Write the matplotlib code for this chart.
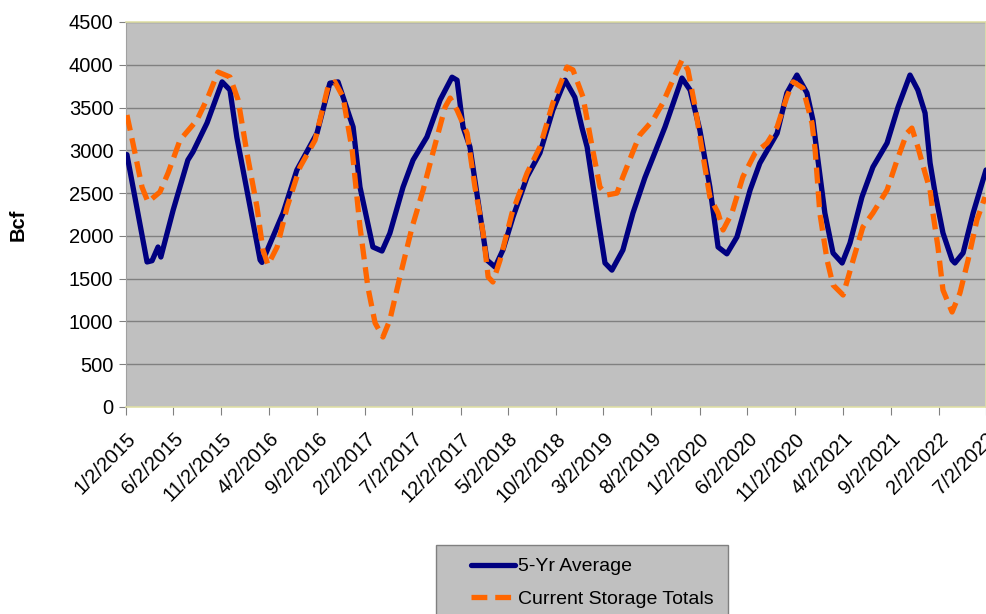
import matplotlib
matplotlib.use("Agg")
import matplotlib.pyplot as plt
from matplotlib.patches import Rectangle
import pandas as pd

# 5-Yr Average (Bcf)
avg_dates = [
    "2015-01-05", "2015-03-10", "2015-03-26", "2015-04-14", "2015-04-23", "2015-06-01",
    "2015-07-18", "2015-08-03", "2015-09-17", "2015-11-04", "2015-11-29", "2015-12-21",
    "2016-02-01", "2016-03-04", "2016-03-10", "2016-05-16", "2016-06-29", "2016-09-01",
    "2016-10-12", "2016-11-07", "2016-12-25", "2017-01-16", "2017-02-26", "2017-03-27",
    "2017-04-21", "2017-06-02", "2017-07-04", "2017-08-17", "2017-09-28", "2017-11-05",
    "2017-11-21", "2017-12-10", "2018-01-01", "2018-01-23", "2018-02-24", "2018-03-22",
    "2018-04-16", "2018-05-18", "2018-07-02", "2018-08-12", "2018-09-22", "2018-10-31",
    "2018-12-01", "2018-12-24", "2019-01-09", "2019-02-10", "2019-03-07", "2019-03-29",
    "2019-05-03", "2019-06-04", "2019-07-12", "2019-08-07", "2019-09-14", "2019-11-07",
    "2019-12-03", "2020-01-03", "2020-02-04", "2020-03-01", "2020-03-29", "2020-04-30",
    "2020-06-11", "2020-07-12", "2020-09-05", "2020-10-06", "2020-11-07", "2020-12-09",
    "2020-12-28", "2021-01-13", "2021-02-04", "2021-03-02", "2021-03-31", "2021-04-25",
    "2021-06-02", "2021-07-07", "2021-08-21", "2021-09-25", "2021-11-02", "2021-11-27",
    "2021-12-20", "2022-01-05", "2022-01-21", "2022-02-15", "2022-03-16", "2022-03-25",
    "2022-04-20", "2022-05-22", "2022-07-02",
]
avg_values = [
    2950, 1695, 1710, 1870, 1753, 2300,
    2887, 2980, 3320, 3800, 3705, 3150,
    2340, 1718, 1690, 2267, 2770, 3200,
    3785, 3800, 3273, 2570, 1870, 1823,
    2030, 2570, 2887, 3156, 3588, 3855,
    3820, 3273, 3040, 2500, 1718, 1636,
    1835, 2220, 2690, 2970, 3470, 3820,
    3620, 3260, 3040, 2267, 1683, 1600,
    1835, 2267, 2680, 2920, 3273, 3845,
    3705, 3237, 2570, 1870, 1790, 1987,
    2536, 2850, 3200, 3670, 3880, 3670,
    3354, 2887, 2267, 1800, 1683, 1917,
    2454, 2805, 3085, 3506, 3880, 3705,
    3436, 2852, 2500, 2034, 1718, 1683,
    1800, 2267, 2770,
]

# Current Storage Totals (Bcf)
cur_dates = [
    "2015-01-05", "2015-01-24", "2015-02-22", "2015-03-13", "2015-04-20", "2015-05-16",
    "2015-06-23", "2015-08-16", "2015-09-20", "2015-10-22", "2015-11-29", "2015-12-25",
    "2016-01-22", "2016-02-23", "2016-03-13", "2016-03-29", "2016-04-27", "2016-05-29",
    "2016-07-09", "2016-08-26", "2016-10-06", "2016-10-28", "2016-11-23", "2016-12-22",
    "2017-01-16", "2017-02-10", "2017-03-05", "2017-03-30", "2017-04-21", "2017-05-23",
    "2017-07-01", "2017-08-05", "2017-09-05", "2017-10-14", "2017-10-30", "2017-11-21",
    "2017-12-23", "2018-01-17", "2018-02-12", "2018-02-28", "2018-03-15", "2018-04-07",
    "2018-05-15", "2018-07-02", "2018-08-12", "2018-09-22", "2018-11-06", "2018-11-25",
    "2018-12-27", "2019-01-25", "2019-02-19", "2019-03-13", "2019-04-14", "2019-05-03",
    "2019-06-10", "2019-06-26", "2019-08-07", "2019-09-07", "2019-10-09", "2019-11-07",
    "2019-11-26", "2019-12-19", "2020-01-10", "2020-02-04", "2020-03-01", "2020-03-17",
    "2020-04-14", "2020-05-19", "2020-06-27", "2020-08-04", "2020-09-05", "2020-10-06",
    "2020-10-26", "2020-11-26", "2020-12-25", "2021-01-04", "2021-01-19", "2021-02-11",
    "2021-03-02", "2021-04-03", "2021-05-05", "2021-06-05", "2021-07-07", "2021-08-21",
    "2021-09-22", "2021-10-23", "2021-11-08", "2021-11-27", "2021-12-20", "2022-01-05",
    "2022-01-14", "2022-01-30", "2022-02-15", "2022-03-16", "2022-04-10", "2022-05-06",
    "2022-06-03", "2022-06-29",
]
cur_values = [
    3413, 3085, 2570, 2396, 2513, 2735,
    3120, 3354, 3623, 3915, 3857, 3588,
    2970, 2338, 1835, 1660, 1870, 2338,
    2805, 3120, 3740, 3800, 3623, 3004,
    2104, 1403, 982, 818, 1017, 1520,
    2104, 2536, 2970, 3506, 3611, 3471,
    3200, 2570, 2034, 1520, 1461, 1718,
    2267, 2735, 3040, 3553, 3974, 3940,
    3623, 3040, 2570, 2478, 2500, 2690,
    3040, 3180, 3354, 3553, 3822, 4055,
    3940, 3506, 3004, 2454, 2267, 2069,
    2267, 2690, 2970, 3085, 3273, 3623,
    3800, 3728, 3319, 3004, 2267, 1718,
    1426, 1309, 1718, 2104, 2267, 2536,
    2887, 3200, 3260, 3040, 2735, 2536,
    2267, 1870, 1367, 1110, 1332, 1718,
    2186, 2454,
]

tick_labels = [
    "1/2/2015", "6/2/2015", "11/2/2015", "4/2/2016", "9/2/2016", "2/2/2017",
    "7/2/2017", "12/2/2017", "5/2/2018", "10/2/2018", "3/2/2019", "8/2/2019",
    "1/2/2020", "6/2/2020", "11/2/2020", "4/2/2021", "9/2/2021", "2/2/2022",
    "7/2/2022",
]

plt.rcParams["font.family"] = ["Liberation Sans", "DejaVu Sans"]

fig = plt.figure(figsize=(9.87, 6.14), dpi=100)
ax = fig.add_axes([126 / 987, 1 - 407 / 614, 860 / 987, 385 / 614])
ax.set_facecolor("#C0C0C0")

ax.plot(pd.to_datetime(avg_dates), avg_values, color="#000080", lw=3.8,
        solid_joinstyle="round", solid_capstyle="round", label="5-Yr Average", zorder=3)
ax.plot(pd.to_datetime(cur_dates), cur_values, color="#FF6600", lw=3.8,
        dashes=(3, 1.5), dash_joinstyle="round", label="Current Storage Totals", zorder=4)

ticks = pd.to_datetime(tick_labels, format="%m/%d/%Y")
ax.set_xlim(ticks[0], ticks[-1])
ax.set_xticks(ticks)
ax.set_xticklabels(tick_labels, rotation=45, ha="right", va="top",
                   rotation_mode="anchor", fontsize=14.5)
ax.set_ylim(0, 4500)
ax.set_yticks(range(0, 4501, 500))
ax.tick_params(axis="y", labelsize=14.5, length=5, color="#808080", pad=4)
ax.tick_params(axis="x", length=6, color="#808080", pad=10)
ax.yaxis.grid(True, color="#808080", lw=1)
ax.set_axisbelow(True)

for s in ("top", "right", "bottom"):
    ax.spines[s].set_color("#E0E0A8")
    ax.spines[s].set_linewidth(1.2)
ax.spines["left"].set_color("#A0A0A0")

fig.text(18 / 987, 1 - 225 / 614, "Bcf", rotation=90, fontsize=14.5,
         fontweight="bold", ha="center", va="center")

# legend box, cut off by the bottom edge like in the original
fig.patches.append(Rectangle((436 / 987, -0.05), 292 / 987, 0.05 + 69 / 614,
                             transform=fig.transFigure, facecolor="#C0C0C0",
                             edgecolor="#808080", lw=1))
leg = fig.legend(loc="upper left", bbox_to_anchor=(461 / 987, 1 - 548 / 614),
                 frameon=False, fontsize=14, handlelength=2.3, handletextpad=0.15,
                 labelspacing=0.75, borderpad=0)

fig.savefig("out.png", dpi=100)
